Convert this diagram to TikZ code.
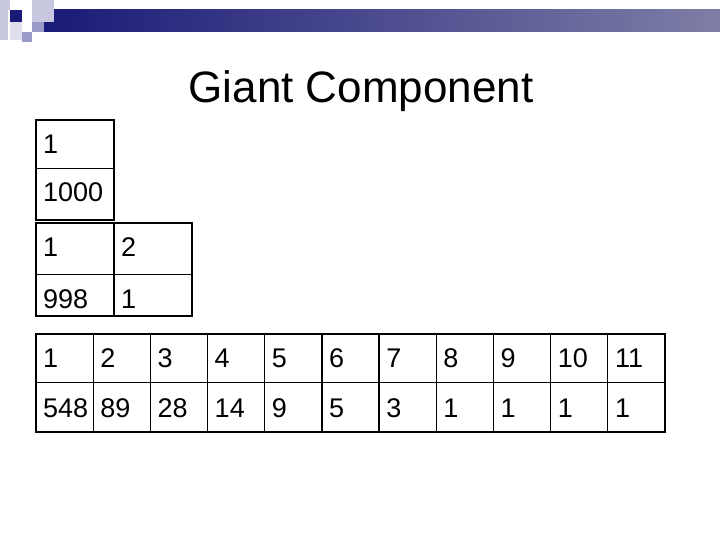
\documentclass[tikz,border=0pt]{standalone}
\usepackage{fontspec}
\setmainfont{Liberation Sans}
\begin{document}
\begin{tikzpicture}[x=1pt,y=-1pt,
  cell/.style={anchor=west,font=\fontsize{27}{29}\selectfont,inner sep=0pt},
  thick line/.style={line width=1.3pt},
  thin line/.style={line width=0.6pt}]
\useasboundingbox (0,0) rectangle (720,540);
\definecolor{navy}{HTML}{1A1A78}
\definecolor{lightnavy}{HTML}{7E7EA6}
\definecolor{sq}{HTML}{C8C8E0}
\definecolor{sqm}{HTML}{9A9AC8}
% header
\shade[left color=navy,right color=lightnavy] (44,10) rectangle (720,32);
\fill[sq] (0,0) rectangle (10,10);
\fill[sq] (0,10) rectangle (8,40);
\fill[navy] (10,10) rectangle (22,22);
\fill[sq] (32,0) rectangle (54,22);
\fill[sqm] (32,22) rectangle (44,32);
\fill[sqm] (22,32) rectangle (32,42);
\fill[sq!60] (10,22) rectangle (22,40);
\node (title) at (361,91) {\fontsize{44}{48}\selectfont Giant Component};
% table 1
\draw[thin line] (36,168) -- (114,168);
\draw[thick line] (36,120) rectangle (114,220);
\node[cell] (a1) at (43,144) {1};
\node[cell] (a2) at (43,192) {1000};
% table 2
\draw[thin line] (36,274) -- (192,274);
\draw[thick line] (114,223) -- (114,316);
\draw[thick line] (36,223) rectangle (192,316);
\node[cell] (b1) at (43,247) {1};
\node[cell] (b2) at (121,247) {2};
\node[cell] (b3) at (43,299) {998};
\node[cell] (b4) at (121,299) {1};
% table 3
\draw[thin line] (36,382) -- (665,382);
\foreach \i in {1,...,10} \draw[thick line] ({36+\i*57.18},334) -- ({36+\i*57.18},432);
\draw[thick line] (36,334) rectangle (665,432);
\foreach \t [count=\i] in {1,2,3,4,5,6,7,8,9,10,11}
  \node[cell] (h\i) at ({43+(\i-1)*57.18},358) {\t};
\foreach \t [count=\i] in {548,89,28,14,9,5,3,1,1,1,1}
  \node[cell] (v\i) at ({43+(\i-1)*57.18},408) {\t};
\end{tikzpicture}
\end{document}
